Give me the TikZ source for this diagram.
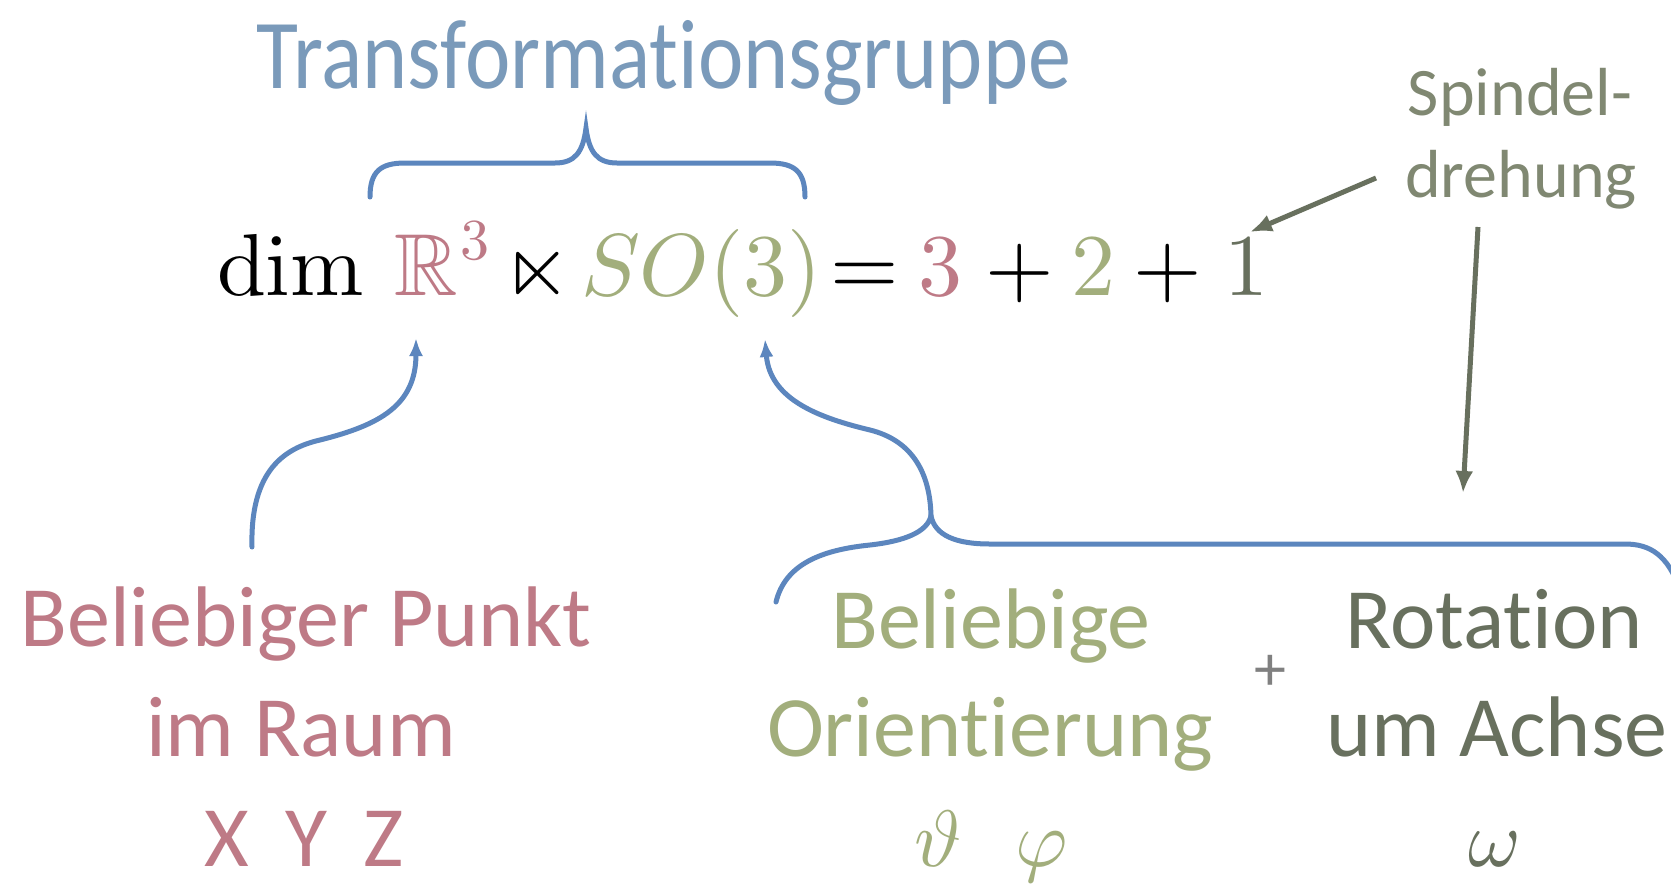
\documentclass[tikz,border=0pt]{standalone}
\usepackage{amssymb}
\usepackage[no-math]{fontspec}
\newfontfamily\labfont[Ligatures=NoCommon]{Carlito}
\usetikzlibrary{arrows.meta}
\definecolor{tblue}{RGB}{122,154,186}
\definecolor{bblue}{RGB}{92,134,190}
\definecolor{pinkc}{RGB}{190,122,134}
\definecolor{greenc}{RGB}{162,174,124}
\definecolor{darkc}{RGB}{104,112,94}
\definecolor{spc}{RGB}{128,136,114}
\newcommand\Mbx[1]{\scalebox{8.8}{$#1$}}
\newcommand\Mlb[1]{\scalebox{8}{$#1$}}
\begin{document}
\begin{tikzpicture}[x=1pt,y=-1pt,
  every node/.style={inner sep=0pt, outer sep=0pt},
  lab/.style={font=\labfont\fontsize{86}{96}\selectfont, anchor=base},
  smalllab/.style={font=\labfont\fontsize{68}{76}\selectfont, anchor=base},
  mth/.style={anchor=base west},
  mlab/.style={anchor=base},
  brace/.style={draw=bblue, line width=5pt, line cap=round},
  barrow/.style={brace, -{Latex[length=18pt,width=14pt]}},
  darrow/.style={draw=darkc, line width=5pt, -{Latex[length=22pt,width=18pt]}}
]
\useasboundingbox (0,0) rectangle (1671,884);
\clip (0,0) rectangle (1671,884);
\fill[white] (0,0) rectangle (1671,884);

% title
\node[lab, text=tblue] (tg) at (664,88) {\scalebox{1}[1.15]{Transformationsgruppe}};

% formula
\node[mth] (dim) at (217,295) {\Mbx{\dim}};
\node[mth, text=pinkc] (R) at (394,295) {\Mbx{\mathbb{R}}};
\node[mth, text=pinkc] (R3) at (460,259) {\scalebox{5.8}{$3$}};
\node[mth] (lt) at (503,295) {\Mbx{\ltimes}};
\node[mth, text=greenc] (SO) at (581,295) {\Mbx{SO(3)}};
\node[mth] (eq) at (830,295) {\Mbx{=}};
\node[mth, text=pinkc] (n3) at (918,295) {\Mbx{3}};
\node[mth] (p1) at (985,295) {\Mbx{+}};
\node[mth, text=greenc] (n2) at (1071,295) {\Mbx{2}};
\node[mth] (p2) at (1133,295) {\Mbx{+}};
\node[mth, text=darkc] (n1) at (1224,295) {\Mbx{1}};

% Spindeldrehung
\node[smalllab, text=spc] (sp1) at (1520,115) {Spindel-};
\node[smalllab, text=spc] (sp2) at (1521,197) {drehung};

% bottom labels
\node[lab, text=pinkc] (bp1) at (306,646) {Beliebiger Punkt};
\node[lab, text=pinkc] (bp2) at (301,756) {im Raum};
\node[lab, text=pinkc] (bp3) at (304,866) {X\hspace{36pt}Y\hspace{36pt}Z};

\node[lab, text=greenc] (bo1) at (991,648) {Beliebige};
\node[lab, text=greenc] (bo2) at (990,756) {Orientierung};
\node[mlab, text=greenc] (bo3) at (991,866) {\Mlb{\vartheta\ \ \varphi}};

\node[font=\labfont\fontsize{64}{70}\selectfont, text=gray] (plus) at (1270,673) {+};

\node[lab, text=darkc] (ra1) at (1494,648) {Rotation};
\node[lab, text=darkc] (ra2) at (1497,756) {um Achse};
\node[mlab, text=darkc] (ra3) at (1495,866) {\Mlb{\omega}};

% top brace
\draw[brace] (370,197) .. controls (370,172) and (380,163) .. (405,163) -- (555,163)
  .. controls (575,163) and (583,152) .. (586,128)
  .. controls (589,152) and (597,163) .. (617,163) -- (770,163)
  .. controls (795,163) and (805,172) .. (805,197);

% left curved arrow
\coordinate (lS) at (252,547);
\coordinate (lT) at (416,338);
\draw[barrow] (lS) .. controls (250,470) and (285,448) .. (320,440)
  .. controls (380,425) and (416,405) .. (lT);

% bottom brace
\coordinate (bT) at (931,516);
\draw[brace] (776,602) .. controls (785,565) and (820,550) .. (870,545)
  .. controls (905,541) and (927,532) .. (bT)
  .. controls (935,535) and (955,544) .. (990,544) -- (1625,544)
  .. controls (1650,544) and (1668,555) .. (1680,590);

% right curved arrow to SO(3)
\coordinate (sT) at (765,339);
\draw[barrow] (bT) .. controls (930,470) and (910,440) .. (870,430)
  .. controls (820,418) and (770,400) .. (sT);

% dark arrows
\coordinate (spS) at (1376,178);
\coordinate (spT) at (1250,232);
\draw[darrow] (spS) -- (spT);
\coordinate (vS) at (1478,227);
\coordinate (vT) at (1463,493);
\draw[darrow] (vS) -- (vT);
\end{tikzpicture}
\end{document}
